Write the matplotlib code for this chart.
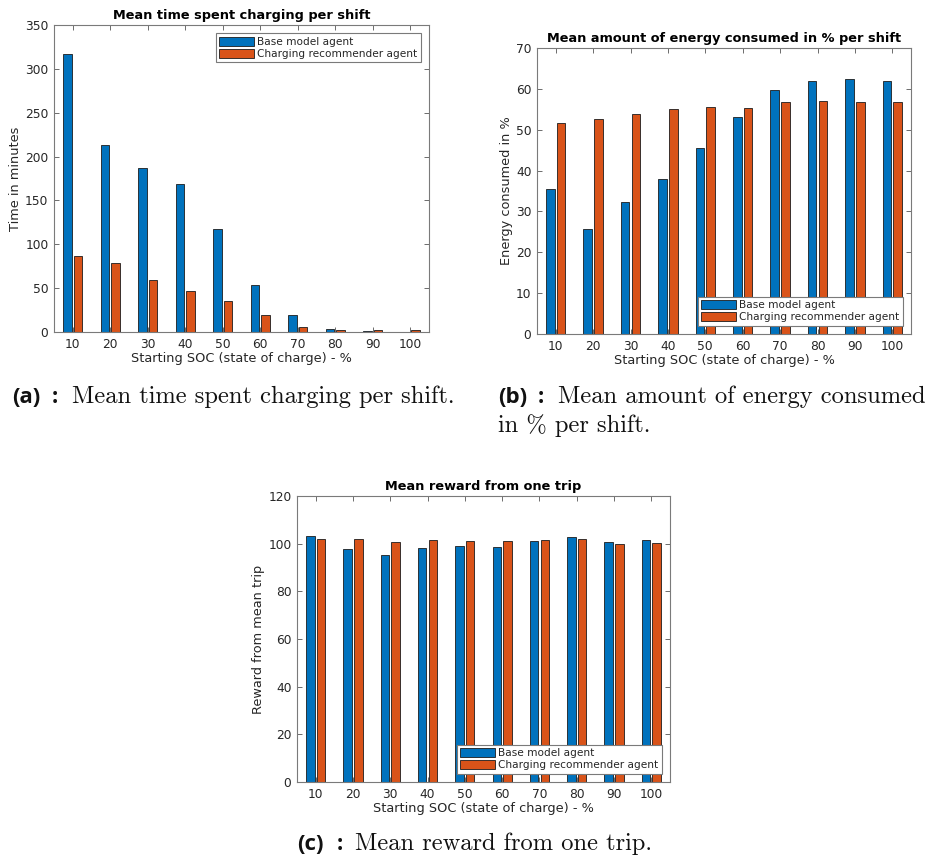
import matplotlib
matplotlib.use("Agg")
import matplotlib.pyplot as plt
import numpy as np

# ── Data ───────────────────────────────────────────────────────────────────────
soc_levels = ["10", "20", "30", "40", "50", "60", "70", "80", "90", "100"]
series_names = ["Base model agent", "Charging recommender agent"]

charge_time_base = [316.8, 213.3, 186.6, 169.1, 116.9, 53.7, 19.8, 3.8, 0.8, 0.0]
charge_time_rec = [86.8, 78.1, 59.8, 46.5, 35.0, 19.8, 5.3, 2.3, 2.3, 2.7]

energy_base = [35.6, 25.7, 32.3, 37.9, 45.5, 53.2, 59.6, 62.0, 62.4, 61.9]
energy_rec = [51.6, 52.6, 53.8, 55.0, 55.6, 55.2, 56.7, 57.0, 56.7, 56.7]

reward_base = [103.2, 97.6, 95.2, 98.3, 98.9, 98.7, 101.2, 102.6, 100.8, 101.7]
reward_rec = [101.8, 102.1, 100.8, 101.7, 101.2, 101.0, 101.4, 101.8, 99.8, 100.1]

# ── Style ──────────────────────────────────────────────────────────────────────
BLUE = "#0072BD"
ORANGE = "#D95319"
TXT = "#262626"
FRAME = "#7a7a7a"

W, H = 940, 860


def fx(x):
    return x / W


def fy(y):
    return 1 - y / H


def bar_panel(ax, base, rec, title, ylabel, ymax, ystep, legend_loc):
    x = np.arange(1, len(soc_levels) + 1)
    width = 0.229
    ax.bar(x - 0.143, base, width, color=BLUE, edgecolor="#1c1c1c",
           linewidth=0.6, label=series_names[0], zorder=2)
    ax.bar(x + 0.143, rec, width, color=ORANGE, edgecolor="#1c1c1c",
           linewidth=0.6, label=series_names[1], zorder=2)

    ax.set_xlim(0.5, len(soc_levels) + 0.5)
    ax.set_ylim(0, ymax)
    ax.set_xticks(x)
    ax.set_xticklabels(soc_levels)
    ax.set_yticks(np.arange(0, ymax + 1, ystep))

    ax.set_title(title, fontsize=9.3, fontweight="bold", color="black", pad=4)
    ax.set_xlabel("Starting SOC (state of charge) - %", fontsize=9.3,
                  color=TXT, labelpad=1)
    ax.set_ylabel(ylabel, fontsize=9.3, color=TXT, labelpad=2)

    ax.tick_params(direction="in", top=True, right=True, length=3.5,
                   width=0.6, color="#555555", labelsize=8.8,
                   labelcolor=TXT, pad=4)
    for s in ax.spines.values():
        s.set_color(FRAME)
        s.set_linewidth(0.8)

    leg = ax.legend(loc=legend_loc, fontsize=7.6, frameon=True, fancybox=False,
                    framealpha=1, edgecolor=FRAME, handlelength=3.3,
                    handleheight=0.95, handletextpad=0.3, labelspacing=0.2,
                    borderpad=0.3, borderaxespad=0.8)
    leg.get_frame().set_linewidth(0.8)
    for t in leg.get_texts():
        t.set_color(TXT)


fig = plt.figure(figsize=(9.4, 8.6), dpi=100)

ax_a = fig.add_axes([fx(54), fy(332), fx(375), 307 / H])
ax_b = fig.add_axes([fx(537), fy(334), fx(374), 286 / H])
ax_c = fig.add_axes([fx(297), fy(782), fx(373), 286 / H])

bar_panel(ax_a, charge_time_base, charge_time_rec,
          "Mean time spent charging per shift", "Time in minutes",
          350, 50, "upper right")
bar_panel(ax_b, energy_base, energy_rec,
          "Mean amount of energy consumed in % per shift", "Energy consumed in %",
          70, 10, "lower right")
bar_panel(ax_c, reward_base, reward_rec,
          "Mean reward from one trip", "Reward from mean trip",
          120, 20, "lower right")

# ── Sub-figure captions ────────────────────────────────────────────────────────
tag_kw = dict(fontsize=16, fontweight="bold", family="Open Sans",
              va="baseline", ha="left", color="#111111")
cap_kw = dict(fontsize=17.6, family="cmr10", va="baseline", ha="left",
              color="#111111")


def caption(x, y, tag, text, x_text):
    fig.text(fx(x), fy(y), tag, **tag_kw)
    fig.text(fx(x + 40), fy(y), ":", **tag_kw)
    fig.text(fx(x_text), fy(y), text, **cap_kw)


caption(12, 403, "(a)", "Mean time spent charging per shift.", 72)
caption(498, 403, "(b)", "Mean amount of energy consumed", 558)
fig.text(fx(498), fy(432), "in % per shift.", **cap_kw)
caption(297, 850, "(c)", "Mean reward from one trip.", 355)

fig.savefig("out.png", dpi=100)
